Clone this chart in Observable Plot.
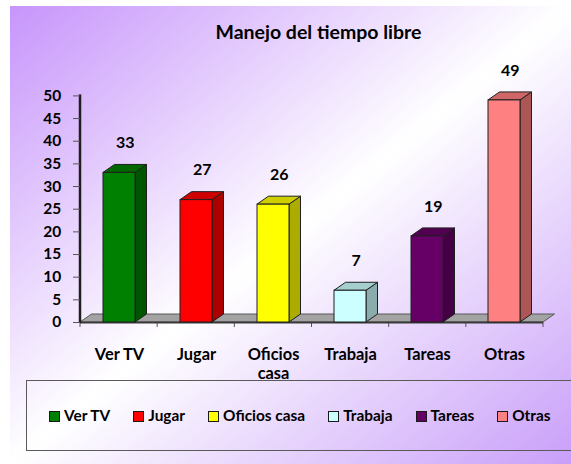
<!DOCTYPE html>
<html>
<head>
<meta charset="utf-8">
<script src="https://cdn.jsdelivr.net/npm/d3@7"></script>
<script src="https://cdn.jsdelivr.net/npm/@observablehq/plot@0.6"></script>
<style>
  html, body { margin: 0; padding: 0; background: #fff; }
  #wrap { position: relative; width: 571px; height: 464px; overflow: hidden; background: #fff;
          font-family: Lato, "Open Sans", sans-serif; font-weight: bold; }
  #bg { position: absolute; left: 10px; top: 6px; right: 0; bottom: 0;
        background: linear-gradient(to bottom right, #c795fb 0%, #ffffff 50%, #c99ff9 100%); }
  #chart { position: absolute; left: 0; top: 0; }
  #legendBox { position: absolute; left: 26px; top: 380px; width: 580px; height: 71px;
               border: 1.5px solid #5a5a5a; box-sizing: border-box; }
  #legend { position: absolute; left: 49px; top: 408px; height: 16px; display: flex;
            align-items: center; gap: 23px; white-space: nowrap; font-size: 15.4px; line-height: 1; color: #000; }
  .item { display: flex; align-items: center; }
  .sw { width: 11px; height: 11px; box-sizing: border-box; border: 1.5px solid #1a1a1a; margin-right: 4px; }
</style>
</head>
<body>
<div id="wrap">
  <div id="bg"></div>
  <div id="chart"></div>
  <div id="legendBox"></div>
  <div id="legend"></div>
</div>
<script>
const title = "Manejo del tiempo libre";
const categories = ["Ver TV", "Jugar", "Oficios casa", "Trabaja", "Tareas", "Otras"];
const values = [33, 27, 26, 7, 19, 49];
const colors = ["#008000", "#ff0000", "#ffff00", "#ccffff", "#660066", "#ff8080"];
const xLabels = ["Ver TV", "Jugar", "Oficios\ncasa", "Trabaja", "Tareas", "Otras"];
const yTicks = [0, 5, 10, 15, 20, 25, 30, 35, 40, 45, 50];

const data = categories.map((c, i) => ({cat: c, value: values[i]}));
const labelOf = new Map(categories.map((c, i) => [c, xLabels[i]]));
const colorOf = new Map(categories.map((c, i) => [c, colors[i]]));

const DX = 11.5, DY = 8;
const FONT = "Lato, 'Open Sans', sans-serif";

// floor, axis lines, category boundary ticks
function floorMark(index, scales, vals, dims) {
  const {x, y} = scales;
  const x0 = dims.marginLeft, x1 = dims.width - dims.marginRight, y0 = y(0);
  const g = d3.create("svg:g");
  g.append("path")
    .attr("d", `M${x0},${y0}L${x1},${y0}L${x1 + DX},${y0 - DY}L${x0 + DX},${y0 - DY}Z`)
    .attr("fill", "#a3a3a3").attr("stroke", "#595959").attr("stroke-width", 1);
  const n = categories.length, step = (x1 - x0) / n;
  for (let i = 0; i <= n; i++) {
    g.append("line").attr("x1", x0 + i * step).attr("x2", x0 + i * step)
      .attr("y1", y0).attr("y2", y0 + 5).attr("stroke", "#555").attr("stroke-width", 1);
  }
  g.append("line").attr("x1", x0).attr("x2", x1).attr("y1", y0 + 0.5).attr("y2", y0 + 0.5)
    .attr("stroke", "#3a3a3a").attr("stroke-width", 2);
  g.append("line").attr("x1", x0).attr("x2", x0).attr("y1", y(yTicks[yTicks.length - 1]) - 1).attr("y2", y0 + 1)
    .attr("stroke", "#1e1e1e").attr("stroke-width", 2.5);
  return g.node();
}

// side and top faces of the 3D bars
function depthFaces(index, scales) {
  const {x, y} = scales;
  const bw = x.bandwidth();
  const g = d3.create("svg:g").attr("stroke", "#1f1f1f").attr("stroke-width", 1).attr("stroke-linejoin", "round");
  for (const d of data) {
    const c = scales.color ? scales.color(d.cat) : colorOf.get(d.cat);
    const xl = x(d.cat), xr = xl + bw, yt = y(d.value), yb = y(0);
    g.append("path")
      .attr("d", `M${xr},${yb}L${xr + DX},${yb - DY}L${xr + DX},${yt - DY}L${xr},${yt}Z`)
      .attr("fill", d3.rgb(c).darker(1.1).formatHex());
    g.append("path")
      .attr("d", `M${xl},${yt}L${xl + DX},${yt - DY}L${xr + DX},${yt - DY}L${xr},${yt}Z`)
      .attr("fill", d3.rgb(c).darker(0.6).formatHex());
  }
  return g.node();
}

const chart = Plot.plot({
  width: 571,
  height: 464,
  marginLeft: 80,
  marginRight: 28,
  marginTop: 95.4,
  marginBottom: 142,
  style: {background: "transparent", fontFamily: FONT, overflow: "visible"},
  x: {domain: categories, paddingInner: 0.59, paddingOuter: 0.295, label: null},
  y: {domain: [0, 50], label: null},
  color: {domain: categories, range: colors},
  marks: [
    floorMark,
    Plot.axisY(yTicks, {tickSize: 7, tickPadding: 12.3, fontSize: 15.5, fontWeight: "bold",
      fill: "#000", stroke: "#555", label: null}),
    Plot.axisX({tickSize: 0, tickPadding: 23.5, fontSize: 16.4, fontWeight: "bold", lineHeight: 1.16,
      fill: "#000", tickFormat: d => labelOf.get(d), label: null}),
    depthFaces,
    Plot.barY(data, {x: "cat", y: "value", fill: "cat", stroke: "#1f1f1f", strokeWidth: 1}),
    Plot.text(data, {x: "cat", y: "value", text: d => String(d.value), dx: DX / 2, dy: -30,
      fontSize: 16, fontWeight: "bold", fill: "#000"}),
    Plot.text([title], {frameAnchor: "top", lineAnchor: "middle", text: d => d, dx: 6.5, dy: -63.4,
      fontSize: 19.5, fontWeight: "bold", fill: "#000"})
  ]
});
document.getElementById("chart").appendChild(chart);

const legend = d3.select("#legend");
categories.forEach((c, i) => {
  const it = legend.append("div").attr("class", "item");
  it.append("div").attr("class", "sw").style("background", colors[i]);
  it.append("span").text(c);
});
</script>
</body>
</html>
